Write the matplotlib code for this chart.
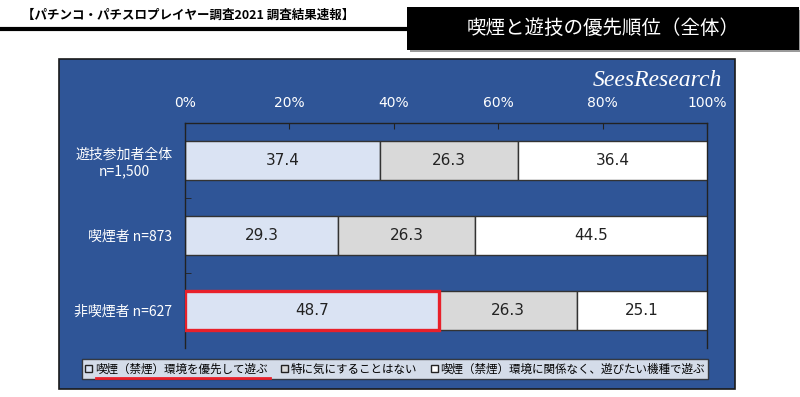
import numpy as np
import matplotlib.pyplot as plt
from matplotlib.patches import Rectangle
from matplotlib.lines import Line2D

plt.rcParams['font.family'] = ['Noto Sans CJK JP', 'DejaVu Sans']

# データ
categories = ['遊技参加者全体\nn=1,500', '喫煙者 n=873', '非喫煙者 n=627']
series_names = ['喫煙（禁煙）環境を優先して遊ぶ', '特に気にすることはない',
                '喫煙（禁煙）環境に関係なく、遊びたい機種で遊ぶ']
prioritize = [37.4, 29.3, 48.7]
dont_care = [26.3, 26.3, 26.3]
regardless = [36.4, 44.5, 25.1]
x_ticks = [0, 20, 40, 60, 80, 100]
x_labels = ['0%', '20%', '40%', '60%', '80%', '100%']

header = '【パチンコ・パチスロプレイヤー調査2021 調査結果速報】'
title = '喫煙と遊技の優先順位（全体）'

panel_blue = '#2F5597'
colors = ['#DAE3F3', '#D9D9D9', '#FFFFFF']

fig = plt.figure(figsize=(8, 3.97), dpi=100)

# ヘッダー
fig.text(0.027, 0.962, header, fontsize=9, fontweight='bold', va='center', ha='left')
fig.add_artist(Line2D([0, 0.51], [0.927, 0.927], color='black', lw=3, transform=fig.transFigure))
fig.add_artist(Rectangle((0.512, 0.868), 0.49, 0.108, transform=fig.transFigure,
                         facecolor='#9a9a9a', edgecolor='none', zorder=1))
fig.add_artist(Rectangle((0.509, 0.874), 0.49, 0.108, transform=fig.transFigure,
                         facecolor='black', edgecolor='none', zorder=2))
fig.text(0.754, 0.928, title, fontsize=14, color='white', va='center', ha='center', zorder=3)

# 青いパネル
fig.add_artist(Rectangle((0.07375, 0.0202), 0.845, 0.8312, transform=fig.transFigure,
                         facecolor=panel_blue, edgecolor='#1a1a1a', lw=1.2, zorder=0))
fig.text(0.903, 0.798, 'SeesResearch', fontsize=17, color='white', style='italic',
         family=['Liberation Serif', 'DejaVu Serif'], ha='right', va='center')

ax = fig.add_axes([0.23125, 0.1234, 0.6525, 0.5668])
ax.set_facecolor(panel_blue)
y = np.arange(len(categories))
left = np.zeros(len(categories))
bars = []
for vals, col, name in zip([prioritize, dont_care, regardless], colors, series_names):
    b = ax.barh(y, vals, left=left, height=0.52, color=col, edgecolor='#333333',
                linewidth=1, label=name)
    for yi, v, l in zip(y, vals, left):
        ax.text(l + v / 2, yi, f'{v:.1f}', ha='center', va='center', fontsize=11,
                color='#222222', family=['DejaVu Sans'], zorder=10)
    bars.append(b)
    left = left + np.array(vals)

# 非喫煙者の強調枠
hl = bars[0].patches[2]
hl.set_edgecolor('#E8202A')
hl.set_linewidth(2.4)
hl.set_zorder(5)

ax.set_xlim(0, 100)
ax.set_ylim(2.5, -0.5)
ax.xaxis.tick_top()
ax.set_xticks(x_ticks)
ax.set_xticklabels(x_labels, color='white', fontsize=10,
                   family=['Liberation Sans Narrow', 'DejaVu Sans'])
ax.tick_params(axis='x', direction='in', length=4, color='#222222', pad=9)
ax.set_yticks(y)
ax.set_yticklabels(categories, color='white', fontsize=10, multialignment='center')
ax.tick_params(axis='y', length=0, pad=9)
ax.set_yticks([0.5, 1.5], minor=True)
ax.tick_params(axis='y', which='minor', direction='in', length=4, color='#222222')
for s in ax.spines.values():
    s.set_color('#222222')
    s.set_linewidth(1)
ax.spines['bottom'].set_visible(False)

# 凡例
leg = fig.legend(handles=bars, labels=series_names, loc='lower left',
                 bbox_to_anchor=(0.1025, 0.0453, 0.7825, 0.0605), mode='expand',
                 ncol=3, fontsize=8.3, frameon=True, fancybox=False,
                 handlelength=0.6, handleheight=0.6, handletextpad=0.2,
                 borderpad=0.3, columnspacing=0.8, borderaxespad=0)
leg.get_frame().set_edgecolor('#222222')
leg.get_frame().set_linewidth(1)
for h in leg.legend_handles:
    h.set_edgecolor('#222222')
    h.set_linewidth(1)
fig.add_artist(Line2D([0.12, 0.338], [0.048, 0.048], color='#E8202A', lw=2,
                      transform=fig.transFigure, zorder=10))

fig.savefig('out.png', dpi=100)
